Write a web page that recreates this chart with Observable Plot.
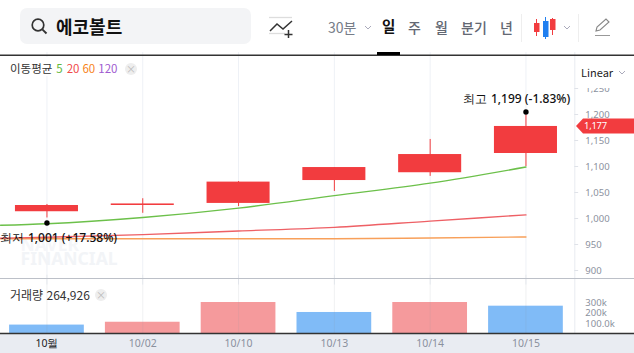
<!DOCTYPE html>
<html lang="ko"><head><meta charset="utf-8">
<script src="https://cdn.jsdelivr.net/npm/d3@7"></script>
<script src="https://cdn.jsdelivr.net/npm/@observablehq/plot@0.6"></script>
<style>
html,body{margin:0;padding:0;background:#fff;width:634px;height:353px;overflow:hidden}
#wrap{position:relative;width:634px;height:353px;font-family:"Noto Sans CJK KR","Noto Sans",sans-serif}
#wrap svg{position:absolute;left:0;top:0;background:transparent}
.h{position:absolute;white-space:nowrap;line-height:1}
</style></head><body><div id="wrap"></div>
<script>
const dates=["10월","10/02","10/10","10/13","10/14","10/15"];
const open=[1013,1025,1029,1073,1088,1125];
const close=[1025,1028,1070,1098,1123,1177];
const high=[1027,1038,1071,1098,1152,1199];
const low=[1001,1010,1023,1052,1081,1100];
const ma5=[990,1002,1020,1044,1068,1099];
const ma20=[964,969,976,983,995,1007];
const ma60=[961,961,961,961,962.5,964.5];
const volume=[85000,112000,300000,205000,300000,264926];
const volUp=[false,true,true,false,true,false];
const priceTicks=[900,950,1000,1050,1100,1150,1200,1250];
const volTicks=[100000,200000,300000];
const volTickLabels=["100.0k","200k","300k"];
const lineStart={i:-0.485,ma5:987,ma20:962,ma60:961};
const idx=dates.map((_,i)=>i);
const RED="#f23c3f",GRID="#eef1f6",TICK="#8b919e";
const xDomain=[-0.485,6.133];
const AX=5.51,LBL=5.62;
const common={width:634,margin:0,marginLeft:0,marginRight:0,marginTop:0,marginBottom:0,
  style:{background:"transparent",overflow:"visible"}};
const fnum=d3.format(",");
const mkLine=(k,arr)=>[{i:lineStart.i,v:lineStart[k]},...idx.map(i=>({i,v:arr[i]}))];

const main=Plot.plot({...common,height:353,
  x:{type:"linear",domain:xDomain,range:[0,634],axis:null},
  y:{type:"linear",domain:[900,1200],range:[270,114],axis:null},
  marks:[
    Plot.ruleX(idx,{x:d=>d,y1:1319,y2:872,stroke:GRID,strokeWidth:1}),
    Plot.text(["NAVER"],{x:-0.275,y:955,text:d=>d,textAnchor:"start",fontSize:17.5,fontWeight:700,fill:"#f5f6f9",dy:3,letterSpacing:1,lineAnchor:"middle"}),
    Plot.text(["FINANCIAL"],{x:-0.275,y:955,text:d=>d,textAnchor:"start",fontSize:17.5,fontWeight:700,fill:"#f2f4f7",dy:17,letterSpacing:1,lineAnchor:"middle"}),
    Plot.line(mkLine("ma60",ma60),{x:"i",y:"v",stroke:"#f8a05a",strokeWidth:1.4,curve:"monotone-x"}),
    Plot.line(mkLine("ma20",ma20),{x:"i",y:"v",stroke:"#ee6065",strokeWidth:1.4,curve:"monotone-x"}),
    Plot.line(mkLine("ma5",ma5),{x:"i",y:"v",stroke:"#6cc04a",strokeWidth:1.4,curve:"monotone-x"}),
    Plot.ruleX(idx,{x:d=>d,y1:i=>low[i],y2:i=>high[i],stroke:RED,strokeWidth:1}),
    Plot.rect(idx,{x1:i=>i-0.329,x2:i=>i+0.329,y1:i=>open[i],y2:i=>close[i],fill:RED}),
    Plot.dot([0],{x:d=>d,y:low[0],r:2.7,fill:"#000",dy:5}),
    Plot.dot([5],{x:d=>d,y:high[5],r:2.7,fill:"#000",dy:-3}),
    Plot.text(["최저"],{x:0,y:low[0],text:d=>d,dy:20,dx:-47,textAnchor:"start",fontSize:12,fill:"#111"}),
    Plot.text(["1,001 (+17.58%)"],{x:0,y:low[0],text:d=>d,dy:20,dx:-19,textAnchor:"start",fontSize:12,fontWeight:500,fill:"#111"}),
    Plot.text(["최고"],{x:5,y:high[5],text:d=>d,dy:-16,dx:-63,textAnchor:"start",fontSize:12,fill:"#111"}),
    Plot.text(["1,199 (-1.83%)"],{x:5,y:high[5],text:d=>d,dy:-16,dx:-35,textAnchor:"start",fontSize:12,fontWeight:500,fill:"#111"}),
    Plot.ruleX([AX],{x:d=>d,y1:1319,y2:776,stroke:"#e8ebf0",strokeWidth:1}),
    Plot.ruleY(priceTicks,{y:d=>d,x1:AX,x2:AX+0.04,stroke:"#dfe2e8"}),
    Plot.text(priceTicks,{y:d=>d,x:LBL,text:d=>fnum(d),textAnchor:"start",fontSize:9.5,letterSpacing:-0.3,fill:TICK}),
    (index,{y})=>{
      const ns="http://www.w3.org/2000/svg",g=document.createElementNS(ns,"g");
      const py=y(close[5]);
      const p=document.createElementNS(ns,"polygon");
      p.setAttribute("points",`576,${py} 583,${py-7.5} 634,${py-7.5} 634,${py+7.5} 583,${py+7.5}`);
      p.setAttribute("fill",RED);g.append(p);
      const t=document.createElementNS(ns,"text");
      t.setAttribute("x",584);t.setAttribute("y",py+3.5);t.setAttribute("fill","#fff");t.setAttribute("font-size","9.5");
      t.setAttribute("text-anchor","start");t.setAttribute("letter-spacing","-0.3");
      t.textContent=fnum(close[5]);g.append(t);
      const w=document.createElementNS(ns,"rect");
      w.setAttribute("x",576);w.setAttribute("y",60);w.setAttribute("width",58);w.setAttribute("height",28);w.setAttribute("fill","#fff");g.append(w);
      return g;
    }
  ]});
document.getElementById("wrap").append(main);

const vol=Plot.plot({...common,height:56,
  x:{type:"linear",domain:xDomain,range:[0,634],axis:null},
  y:{type:"linear",domain:[0,300000],range:[55.5,24],axis:null},
  marks:[
    Plot.rect(idx,{x1:i=>i-0.39,x2:i=>i+0.39,y1:0,y2:i=>volume[i],fill:i=>volUp[i]?"#f59a9c":"#80bbf7"}),
    Plot.ruleX(idx,{x:d=>d,y1:0,y2:560000,stroke:"#8a8f9a",strokeOpacity:0.13}),
    Plot.text(volTicks,{y:d=>d,x:LBL,text:(d,i)=>volTickLabels[i],textAnchor:"start",fontSize:9.5,letterSpacing:-0.3,fill:TICK})
  ]});
vol.style.top="278px";
document.getElementById("wrap").append(vol);

const axis=Plot.plot({...common,height:20,
  x:{type:"linear",domain:xDomain,range:[0,634],axis:null},
  y:{domain:[0,1],range:[20,0],axis:null},
  marks:[
    Plot.rect([0],{x1:xDomain[0],x2:xDomain[1],y1:0,y2:1,fill:"#e9ecf2"}),
    Plot.ruleY([1],{stroke:"#333",strokeWidth:1.4}),
    Plot.text(idx,{x:d=>d,y:0.5,text:i=>dates[i],fontSize:10.5,fontWeight:i=>i===0?700:400,fill:i=>i===0?"#222":TICK})
  ]});
axis.style.top="333px";
document.getElementById("wrap").append(axis);

const w=document.getElementById("wrap");
w.insertAdjacentHTML("beforeend",`
<div class="h" style="left:20px;top:8px;width:231px;height:36px;background:#f3f4f6;border-radius:7px"></div>
<svg width="634" height="56" style="pointer-events:none">
 <circle cx="38" cy="25" r="5.8" fill="none" stroke="#333" stroke-width="1.7"/><line x1="42.3" y1="29.3" x2="46.5" y2="33.5" stroke="#333" stroke-width="1.9"/>
 <line x1="269" y1="17.5" x2="292" y2="17.5" stroke="#ddd" stroke-width="1.3"/><line x1="269" y1="33.5" x2="285" y2="33.5" stroke="#ddd" stroke-width="1.3"/>
 <polyline points="270,31 277,24 283,29 292,21" fill="none" stroke="#333" stroke-width="1.5"/>
 <path d="M288.500 30v8M284.500 34.500h8" stroke="#333" stroke-width="1.5"/>
 <path d="M365 26l3 3 3-3M564 26l3 3 3-3" fill="none" stroke="#aab" stroke-width="1"/>
 <line x1="521.500" y1="14" x2="521.500" y2="42" stroke="#eee"/><line x1="578.500" y1="14" x2="578.500" y2="42" stroke="#eee"/>
 <line x1="536.500" y1="19" x2="536.500" y2="36" stroke="${RED}"/><rect x="534" y="23" width="5.500" height="9" fill="${RED}"/>
 <line x1="545.500" y1="17" x2="545.500" y2="39" stroke="#1f7ff0"/><rect x="543" y="21" width="5.500" height="16" fill="#1f7ff0"/>
 <line x1="552.500" y1="18" x2="552.500" y2="35" stroke="${RED}"/><rect x="550" y="19" width="5.500" height="11" fill="${RED}"/>
 <path d="M596 31l1-4 9-8 3 3-9 8z" fill="none" stroke="#888" stroke-width="1.1"/><line x1="595" y1="35.500" x2="610" y2="35.500" stroke="#999"/>
 <rect x="0" y="54.500" width="634" height="1.500" fill="#333"/><rect x="377" y="52" width="23" height="3" fill="#000"/>
</svg>
<div class="h" style="left:56px;top:16.500px;font-size:18px;font-weight:700;color:#111">에코볼트</div>
<div class="h" style="left:328px;top:20px;font-size:14px;color:#777d88">30분</div>
<div class="h" style="left:382px;top:18.500px;font-size:14.500px;font-weight:700;color:#111">일</div>
<div class="h" style="left:408px;top:19.500px;font-size:14px;font-weight:500;color:#636873">주</div>
<div class="h" style="left:435px;top:19.500px;font-size:14px;font-weight:500;color:#636873">월</div>
<div class="h" style="left:461px;top:19.500px;font-size:14px;font-weight:500;color:#636873">분기</div>
<div class="h" style="left:500px;top:19.500px;font-size:14px;font-weight:500;color:#636873">년</div>
<div class="h" style="left:581px;top:67px;font-size:11px;color:#222">Linear</div>
<svg width="634" height="80" style="pointer-events:none"><path d="M619 71l3 3 3-3" fill="none" stroke="#aab" stroke-width="1"/></svg>
<div class="h" style="left:0;top:57px;width:140px;height:19px;background:#fff"></div>
<div class="h" style="left:10px;top:63px;font-size:11.500px;color:#333"><span>이동평균</span><span style="color:#62b83c;margin-left:4px">5</span><span style="color:#f04a4a;margin-left:4px">20</span><span style="color:#f7851d;margin-left:3px">60</span><span style="color:#a05bd0;margin-left:3px">120</span></div>
<div class="h" style="left:125px;top:63px;width:12px;height:12px;border-radius:50%;background:#eee;color:#bbb;font-size:10px;line-height:12px;text-align:center">×</div>
<div class="h" style="left:10px;top:289px;font-size:12px;color:#333">거래량 264,926</div>
<div class="h" style="left:95px;top:289px;width:12px;height:12px;border-radius:50%;background:#eee;color:#bbb;font-size:10px;line-height:12px;text-align:center">×</div>
<div class="h" style="left:0;top:278px;width:634px;height:1px;background:#bcc0c8"></div>
`);
</script></body></html>
